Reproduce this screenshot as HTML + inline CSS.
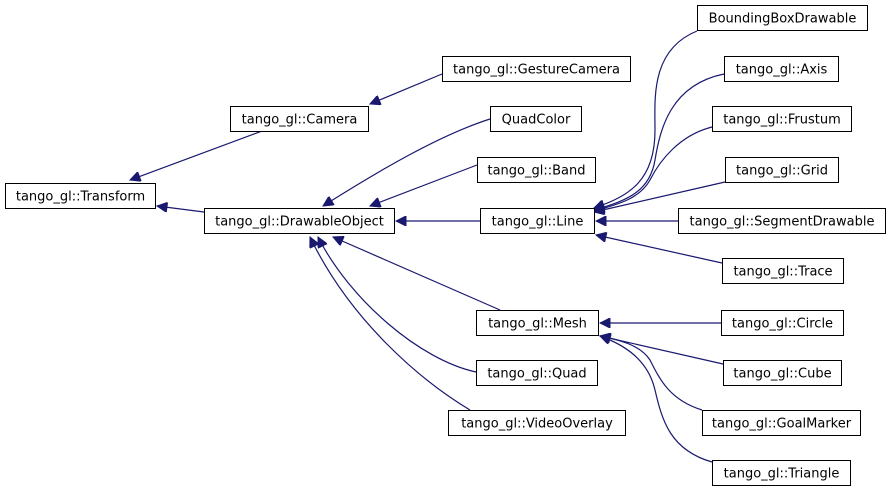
<!DOCTYPE html>
<html><head><style>body{margin:0;background:#fff}svg{display:block}</style></head><body>
<svg width="891" height="493" xmlns="http://www.w3.org/2000/svg" font-family="DejaVu Sans, sans-serif" font-size="13">
<defs><marker id="a" viewBox="0 0 10 10" refX="10" refY="5" markerWidth="12" markerHeight="10" orient="auto" markerUnits="userSpaceOnUse"><path d="M0,0L10,5L0,10z" fill="#191970" stroke="#191970"/></marker></defs>
<g fill="none" stroke="#191970" stroke-width="1.2" marker-end="url(#a)">
<path d="M262,131 L130,180"/>
<path d="M204,212 L157,206"/>
<path d="M442,74 L370,104"/>
<path d="M490,119 C440,135 380,170 323,206"/>
<path d="M477,165 L370,206"/>
<path d="M480,221 L396,221"/>
<path d="M500,310 L333,237"/>
<path d="M476,372 C420,360 350,300 318,237"/>
<path d="M470,410 C420,380 350,320 310,237"/>
<path d="M697,31 C650,50 655,100 655,130 C655,180 630,196 594,208"/>
<path d="M724,74 C670,85 660,130 655,160 C650,190 630,200 594,210"/>
<path d="M712,127 C680,135 660,160 650,180 C640,198 620,204 594,211"/>
<path d="M725,182 L594,212"/>
<path d="M678,221 L596,221"/>
<path d="M722,263 L596,235"/>
<path d="M721,323 L600,323"/>
<path d="M723,364 L600,336"/>
<path d="M702,410 C670,400 660,380 650,360 C640,345 620,340 600,336"/>
<path d="M712,462 C670,450 662,420 655,390 C648,360 625,345 600,336"/>
</g>
<g fill="#fff" stroke="#000" stroke-width="1">
<rect x="5.5" y="183.5" width="150" height="25"/>
<rect x="230.5" y="106.5" width="138" height="25"/>
<rect x="442.5" y="56.5" width="188" height="25"/>
<rect x="204.5" y="208.5" width="190" height="25"/>
<rect x="490.5" y="106.5" width="91" height="25"/>
<rect x="477.5" y="157.5" width="118" height="25"/>
<rect x="480.5" y="208.5" width="114" height="25"/>
<rect x="476.5" y="310.5" width="122" height="25"/>
<rect x="476.5" y="360.5" width="121" height="25"/>
<rect x="448.5" y="410.5" width="177" height="25"/>
<rect x="697.5" y="5.5" width="170" height="25"/>
<rect x="724.5" y="56.5" width="114" height="25"/>
<rect x="712.5" y="106.5" width="139" height="25"/>
<rect x="725.5" y="157.5" width="113" height="25"/>
<rect x="678.5" y="208.5" width="207" height="25"/>
<rect x="722.5" y="258.5" width="121" height="25"/>
<rect x="721.5" y="310.5" width="122" height="25"/>
<rect x="723.5" y="360.5" width="118" height="25"/>
<rect x="702.5" y="410.5" width="158" height="25"/>
<rect x="712.5" y="460.5" width="138" height="25"/>
</g>
<g fill="#000" text-anchor="middle">
<text x="80.5" y="200.5">tango_gl::Transform</text>
<text x="299.5" y="123.5">tango_gl::Camera</text>
<text x="536.5" y="73.5">tango_gl::GestureCamera</text>
<text x="299.5" y="225.5">tango_gl::DrawableObject</text>
<text x="536" y="123.5">QuadColor</text>
<text x="536.5" y="174.5">tango_gl::Band</text>
<text x="537.5" y="225.5">tango_gl::Line</text>
<text x="537.5" y="327.5">tango_gl::Mesh</text>
<text x="537" y="377.5">tango_gl::Quad</text>
<text x="537" y="427.5">tango_gl::VideoOverlay</text>
<text x="782.5" y="22.5">BoundingBoxDrawable</text>
<text x="781.5" y="73.5">tango_gl::Axis</text>
<text x="782" y="123.5">tango_gl::Frustum</text>
<text x="782" y="174.5">tango_gl::Grid</text>
<text x="782" y="225.5">tango_gl::SegmentDrawable</text>
<text x="783" y="275.5">tango_gl::Trace</text>
<text x="782.5" y="327.5">tango_gl::Circle</text>
<text x="782.5" y="377.5">tango_gl::Cube</text>
<text x="781.5" y="427.5">tango_gl::GoalMarker</text>
<text x="781.5" y="477.5">tango_gl::Triangle</text>
</g>
</svg>
</body></html>
